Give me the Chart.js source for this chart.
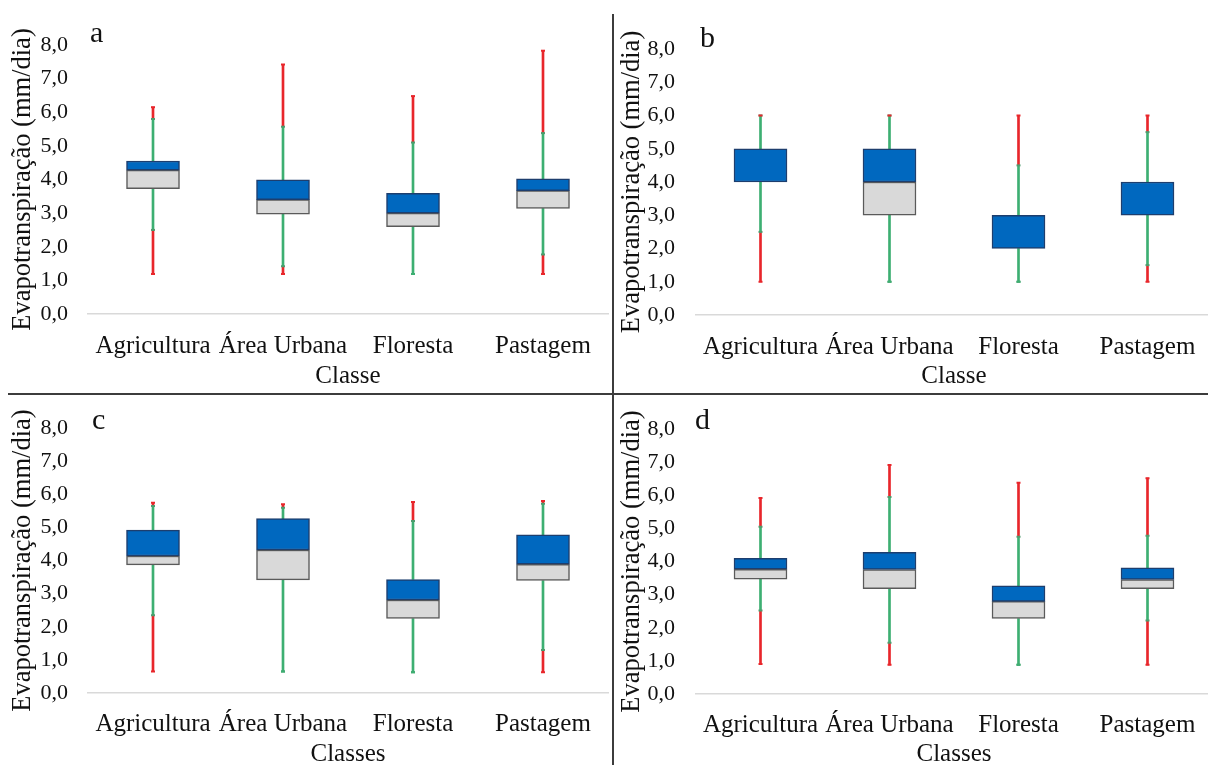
<!DOCTYPE html>
<html>
<head>
<meta charset="utf-8">
<script src="https://cdn.jsdelivr.net/npm/chart.js@4.4.1/dist/chart.umd.min.js"></script>
<style>
    body { margin: 0; background: #fff; }
    #fig { position: relative; width: 1208px; height: 765px; overflow: hidden; background: #fff; }
    .panel { position: absolute; overflow: hidden; }
    .panel canvas { position: absolute; left: 0; top: 0; }
    .vline { position: absolute; left: 612px; top: 14px; width: 2px; height: 751px; background: #3c3c3c; }
    .hline { position: absolute; left: 8px; top: 393px; width: 1200px; height: 2px; background: #3c3c3c; }
</style>
</head>
<body>
<div id="fig">
    <div class="panel" style="left:0;top:0;width:612px;height:392px"><canvas id="chartA" width="614" height="390"></canvas></div>
    <div class="panel" style="left:614px;top:0;width:594px;height:392px"><canvas id="chartB" width="604" height="390"></canvas></div>
    <div class="panel" style="left:0;top:395px;width:612px;height:370px"><canvas id="chartC" width="614" height="371"></canvas></div>
    <div class="panel" style="left:614px;top:395px;width:594px;height:370px"><canvas id="chartD" width="604" height="371"></canvas></div>
    <div class="vline"></div>
    <div class="hline"></div>
</div>
<script>
// land-cover classes shared by the four panels
const categories = ['Agricultura', 'Área Urbana', 'Floresta', 'Pastagem'];
const yTicks = [0, 1, 2, 3, 4, 5, 6, 7, 8];

// panel a
const aMin = [1.19, 1.19, 1.19, 1.19];
const aLow = [2.50, 1.42, 1.19, 1.77];
const aQ1 = [3.73, 2.97, 2.60, 3.14];
const aMed = [4.28, 3.40, 3.00, 3.67];
const aQ3 = [4.55, 3.99, 3.59, 4.02];
const aHigh = [5.80, 5.57, 5.10, 5.38];
const aMax = [6.15, 7.42, 6.48, 7.83];

// panel b
const bMin = [1.0, 1.0, 1.0, 1.0];
const bLow = [2.5, 1.0, 1.0, 1.5];
const bQ1 = [4.0, 3.0, 2.0, 3.0];
const bMed = [4.0, 4.0, 2.0, 3.0];
const bQ3 = [5.0, 5.0, 3.0, 4.0];
const bHigh = [6.0, 6.0, 4.5, 5.5];
const bMax = [6.0, 6.0, 6.0, 6.0];

// panel c
const cMin = [0.65, 0.65, 0.63, 0.63];
const cLow = [2.35, 0.65, 0.63, 1.30];
const cQ1 = [3.87, 3.42, 2.25, 3.40];
const cMed = [4.14, 4.32, 2.81, 3.89];
const cQ3 = [4.92, 5.27, 3.43, 4.78];
const cHigh = [5.65, 5.60, 5.20, 5.72];
const cMax = [5.75, 5.70, 5.77, 5.80];

// panel d
const dMin = [0.91, 0.88, 0.88, 0.88];
const dLow = [2.52, 1.55, 0.88, 2.22];
const dQ1 = [3.47, 3.18, 2.28, 3.18];
const dMed = [3.77, 3.76, 2.80, 3.46];
const dQ3 = [4.10, 4.28, 3.27, 3.81];
const dHigh = [5.05, 5.95, 4.75, 4.78];
const dMax = [5.92, 6.92, 6.38, 6.52];

const RED = '#e8262b';
const GREEN = '#3daf72';
const BLUE = '#0068bf';
const GREY = '#d9d9d9';
const SERIF = '"Liberation Serif", "Times New Roman", serif';

// draws the panel letter (a, b, c, d) next to the top of the plot area
const panelLetter = {
    id: 'panelLetter',
    afterDraw(chart, args, opts) {
        const { ctx, chartArea } = chart;
        ctx.save();
        ctx.font = `30px ${SERIF}`;
        ctx.fillStyle = '#111';
        ctx.textBaseline = 'alphabetic';
        ctx.fillText(opts.text, chartArea.left + opts.dx, chartArea.top + opts.dy);
        ctx.restore();
    }
};

// pairs two arrays into floating bar ranges
const ranges = (lo, hi) => lo.map((v, i) => [v, hi[i]]);

const whisker = (lo, hi, color) => ({
    data: ranges(lo, hi),
    backgroundColor: color,
    barThickness: 2,
    grouped: false
});

const cap = (values, color) => ({
    type: 'line',
    data: values,
    showLine: false,
    pointStyle: 'line',
    pointRadius: 2,
    pointBorderWidth: 2,
    borderColor: color,
    backgroundColor: color
});

/* builds one box-plot panel from its seven value arrays */
const drawPanel = (id, s, layout) => {
    const canvas = document.getElementById(id);

    new Chart(canvas, {
        type: 'bar',
        data: {
            labels: categories,
            datasets: [
                cap(s.max, RED),
                cap(s.min, s.min.map((v, i) => (v < s.low[i] ? RED : GREEN))),
                cap(s.high, '#4f9a6e'),
                cap(s.low, '#4f9a6e'),
                {
                    data: ranges(s.med, s.q3),
                    backgroundColor: BLUE,
                    borderColor: '#1d3e6e',
                    borderWidth: 1.5,
                    borderSkipped: false,
                    barThickness: 53,
                    grouped: false
                },
                {
                    data: ranges(s.q1, s.med),
                    backgroundColor: GREY,
                    borderColor: '#5a5a5a',
                    borderWidth: 1.5,
                    borderSkipped: false,
                    barThickness: 53,
                    grouped: false
                },
                whisker(s.high, s.max, RED),
                whisker(s.q3, s.high, GREEN),
                whisker(s.low, s.q1, GREEN),
                whisker(s.min, s.low, RED)
            ]
        },
        options: {
            responsive: false,
            animation: false,
            layout: { padding: { top: layout.top, right: 0, bottom: 0, left: 0 } },
            plugins: {
                legend: { display: false },
                tooltip: { enabled: false },
                panelLetter: { text: layout.letter, dx: layout.dx, dy: layout.dy }
            },
            scales: {
                x: {
                    grid: { display: false, drawTicks: false },
                    border: { display: true, color: '#d9d9d9', width: 1.5 },
                    ticks: {
                        color: '#111',
                        padding: layout.xPad,
                        maxRotation: 0,
                        autoSkip: false,
                        font: { family: SERIF, size: 25, lineHeight: 1.2 }
                    },
                    title: {
                        display: true,
                        text: layout.xTitle,
                        color: '#111',
                        padding: { top: 0, bottom: layout.xTitleBottom },
                        font: { family: SERIF, size: 25, lineHeight: 1 }
                    },
                    afterFit: (scale) => { scale.height = layout.xHeight; }
                },
                y: {
                    min: 0,
                    max: 8,
                    grid: { display: false, drawTicks: false },
                    border: { display: false },
                    afterBuildTicks: (scale) => { scale.ticks = yTicks.map((v) => ({ value: v })); },
                    ticks: {
                        color: '#111',
                        padding: layout.yPad,
                        font: { family: SERIF, size: 22 },
                        callback: (v) => v.toFixed(1).replace('.', ',')
                    },
                    title: {
                        display: true,
                        text: 'Evapotranspiração (mm/dia)',
                        color: '#111',
                        padding: { top: layout.yTitleLeft, bottom: 0 },
                        font: { family: SERIF, size: 26.5, lineHeight: 1 }
                    },
                    afterFit: (scale) => { scale.width = layout.left; }
                }
            }
        },
        plugins: [panelLetter]
    });
};

drawPanel('chartA',
    { min: aMin, low: aLow, q1: aQ1, med: aMed, q3: aQ3, high: aHigh, max: aMax },
    { letter: 'a', dx: 2, dy: -3, top: 45, left: 88, xHeight: 76, xPad: 17, xTitle: 'Classe', xTitleBottom: 1, yPad: 20, yTitleLeft: 10 });

drawPanel('chartB',
    { min: bMin, low: bLow, q1: bQ1, med: bMed, q3: bQ3, high: bHigh, max: bMax },
    { letter: 'b', dx: 4, dy: -2, top: 49, left: 82, xHeight: 75, xPad: 17, xTitle: 'Classe', xTitleBottom: 1, yPad: 21, yTitleLeft: 5 });

drawPanel('chartC',
    { min: cMin, low: cLow, q1: cQ1, med: cMed, q3: cQ3, high: cHigh, max: cMax },
    { letter: 'c', dx: 4, dy: 1, top: 29, left: 88, xHeight: 73, xPad: 16, xTitle: 'Classes', xTitleBottom: -1, yPad: 20, yTitleLeft: 10 });

drawPanel('chartD',
    { min: dMin, low: dLow, q1: dQ1, med: dMed, q3: dQ3, high: dHigh, max: dMax },
    { letter: 'd', dx: -1, dy: 0, top: 32, left: 82, xHeight: 72, xPad: 16, xTitle: 'Classes', xTitleBottom: -1, yPad: 21, yTitleLeft: 5 });
</script>
</body>
</html>
